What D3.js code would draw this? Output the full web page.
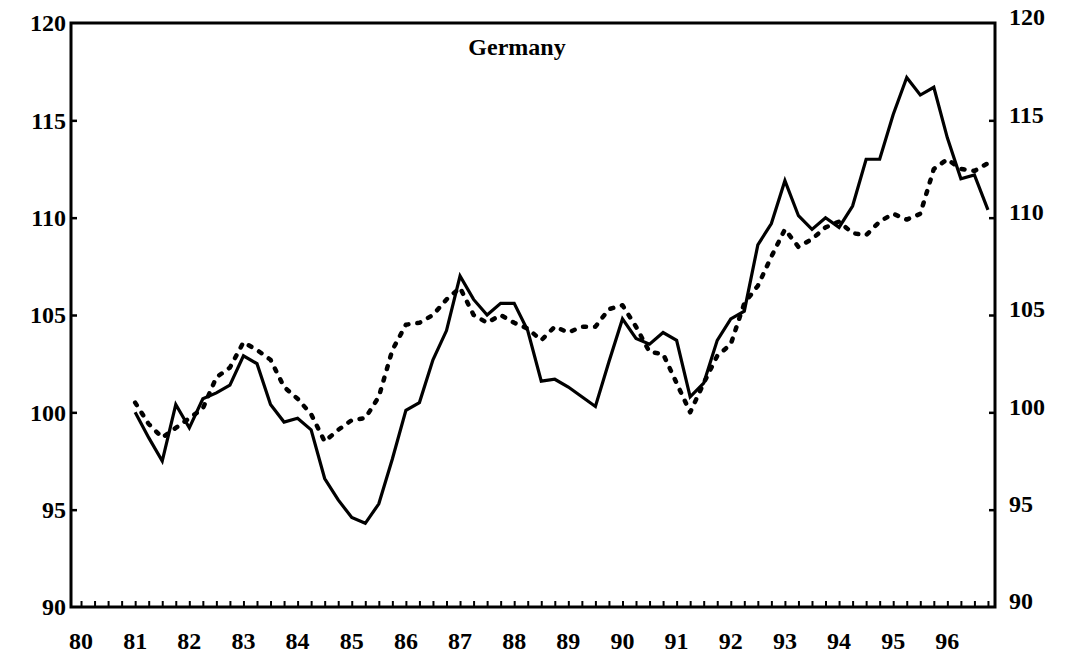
<!DOCTYPE html>
<html>
<head>
<meta charset="utf-8">
<script src="https://cdn.jsdelivr.net/npm/d3@7"></script>
<style>
  html, body { margin: 0; padding: 0; background: #fff; }
  svg { display: block; }
  text { font-family: "Liberation Serif", "Times New Roman", serif; font-weight: bold; fill: #000; }
</style>
</head>
<body>
<svg id="chart" width="1073" height="666"></svg>
<script>
// ---- Data ----
const title = "Germany";
const yearLabels = ["80","81","82","83","84","85","86","87","88","89","90","91","92","93","94","95","96"];
const yearValues = [80,81,82,83,84,85,86,87,88,89,90,91,92,93,94,95,96];
const yTicks = [90, 95, 100, 105, 110, 115, 120];
const firstYear = 81;          // series start: 1981 Q1, quarterly
const quartersPerYear = 4;

const solidSeries = [100.0, 98.7, 97.5, 100.4, 99.2, 100.7, 101.0, 101.4, 102.9, 102.5,
  100.4, 99.5, 99.7, 99.1, 96.6, 95.5, 94.6, 94.3, 95.3, 97.6,
  100.1, 100.5, 102.7, 104.2, 107.0, 105.8, 105.0, 105.6, 105.6, 104.2,
  101.6, 101.7, 101.3, 100.8, 100.3, 102.6, 104.8, 103.8, 103.5, 104.1,
  103.7, 100.8, 101.5, 103.7, 104.8, 105.2, 108.6, 109.7, 111.9, 110.1,
  109.4, 110.0, 109.5, 110.6, 113.0, 113.0, 115.3, 117.2, 116.3, 116.7,
  114.1, 112.0, 112.2, 110.4];

const dottedSeries = [100.5, 99.4, 98.7, 99.2, 99.7, 100.2, 101.8, 102.3, 103.6, 103.2,
  102.7, 101.3, 100.7, 99.9, 98.5, 99.1, 99.6, 99.7, 100.8, 103.2,
  104.5, 104.6, 105.0, 105.8, 106.4, 105.0, 104.6, 105.0, 104.6, 104.3,
  103.7, 104.4, 104.1, 104.4, 104.4, 105.3, 105.5, 104.4, 103.1, 103.0,
  101.5, 100.0, 101.5, 102.9, 103.5, 105.6, 106.5, 108.0, 109.4, 108.5,
  108.9, 109.5, 109.8, 109.2, 109.1, 109.8, 110.2, 109.9, 110.2, 112.5,
  113.0, 112.5, 112.4, 112.8];

// quarterly tick positions along the bottom axis: 1980 Q1 .. 1996 Q4
const tickYears = [];
for (let yr = 80; yr <= 96; yr++) for (let q = 0; q < 4; q++) tickYears.push(yr + q / 4);

// ---- Layout ----
const svg = d3.select("#chart");
const mLeft = 71, mRight = 995, mTop = 23, mBottom = 607;

const x = d3.scaleLinear().domain([79.815, 96.88]).range([mLeft, mRight]);
const y = d3.scaleLinear().domain([90, 120]).range([mBottom, mTop]);

const t = i => firstYear + i / quartersPerYear;

const line = d3.line().x((d, i) => x(t(i))).y(d => y(d)).curve(d3.curveLinear);

svg.append("path")
  .datum(dottedSeries)
  .attr("d", line)
  .attr("fill", "none")
  .attr("stroke", "#000")
  .attr("stroke-width", 4.5)
  .attr("stroke-linecap", "round")
  .attr("stroke-linejoin", "round")
  .attr("stroke-dasharray", "3,9");

svg.append("path")
  .datum(solidSeries)
  .attr("d", line)
  .attr("fill", "none")
  .attr("stroke", "#000")
  .attr("stroke-width", 3.2)
  .attr("stroke-linejoin", "miter");

// bottom axis with quarterly ticks pointing up
const xAxis = d3.axisTop(x).tickValues(tickYears).tickSize(6).tickFormat("");
const gx = svg.append("g").attr("transform", `translate(0,${mBottom})`).call(xAxis);
gx.select(".domain").remove();
gx.selectAll(".tick line").attr("stroke", "#000").attr("stroke-width", 2);

// left axis, ticks inward
const yAxisL = d3.axisRight(y).tickValues(yTicks.slice(1, -1)).tickSize(6).tickFormat("");
const gl = svg.append("g").attr("transform", `translate(${mLeft},0)`).call(yAxisL);
gl.select(".domain").remove();
gl.selectAll(".tick line").attr("stroke", "#000").attr("stroke-width", 2.5);

// right axis, ticks inward
const yAxisR = d3.axisLeft(y).tickValues(yTicks.slice(1, -1)).tickSize(6).tickFormat("");
const gr = svg.append("g").attr("transform", `translate(${mRight},0)`).call(yAxisR);
gr.select(".domain").remove();
gr.selectAll(".tick line").attr("stroke", "#000").attr("stroke-width", 2.5);

// frame
svg.append("rect")
  .attr("x", mLeft).attr("y", mTop)
  .attr("width", mRight - mLeft).attr("height", mBottom - mTop)
  .attr("fill", "none").attr("stroke", "#000").attr("stroke-width", 3);

// y labels
svg.append("g").selectAll("text").data(yTicks).join("text")
  .attr("x", mLeft - 5).attr("y", d => y(d)).attr("dy", "0.35em")
  .attr("text-anchor", "end").attr("font-size", 24)
  .text(d => d);

svg.append("g").selectAll("text").data(yTicks).join("text")
  .attr("x", mRight + 14).attr("y", d => y(d) - 6).attr("dy", "0.35em")
  .attr("text-anchor", "start").attr("font-size", 24)
  .text(d => d);

// x labels
svg.append("g").selectAll("text").data(yearValues).join("text")
  .attr("x", d => x(d)).attr("y", 649)
  .attr("text-anchor", "middle").attr("font-size", 24)
  .text((d, i) => yearLabels[i]);

// title
svg.append("text")
  .attr("x", 517).attr("y", 55)
  .attr("text-anchor", "middle").attr("font-size", 24)
  .text(title);
</script>
</body>
</html>
